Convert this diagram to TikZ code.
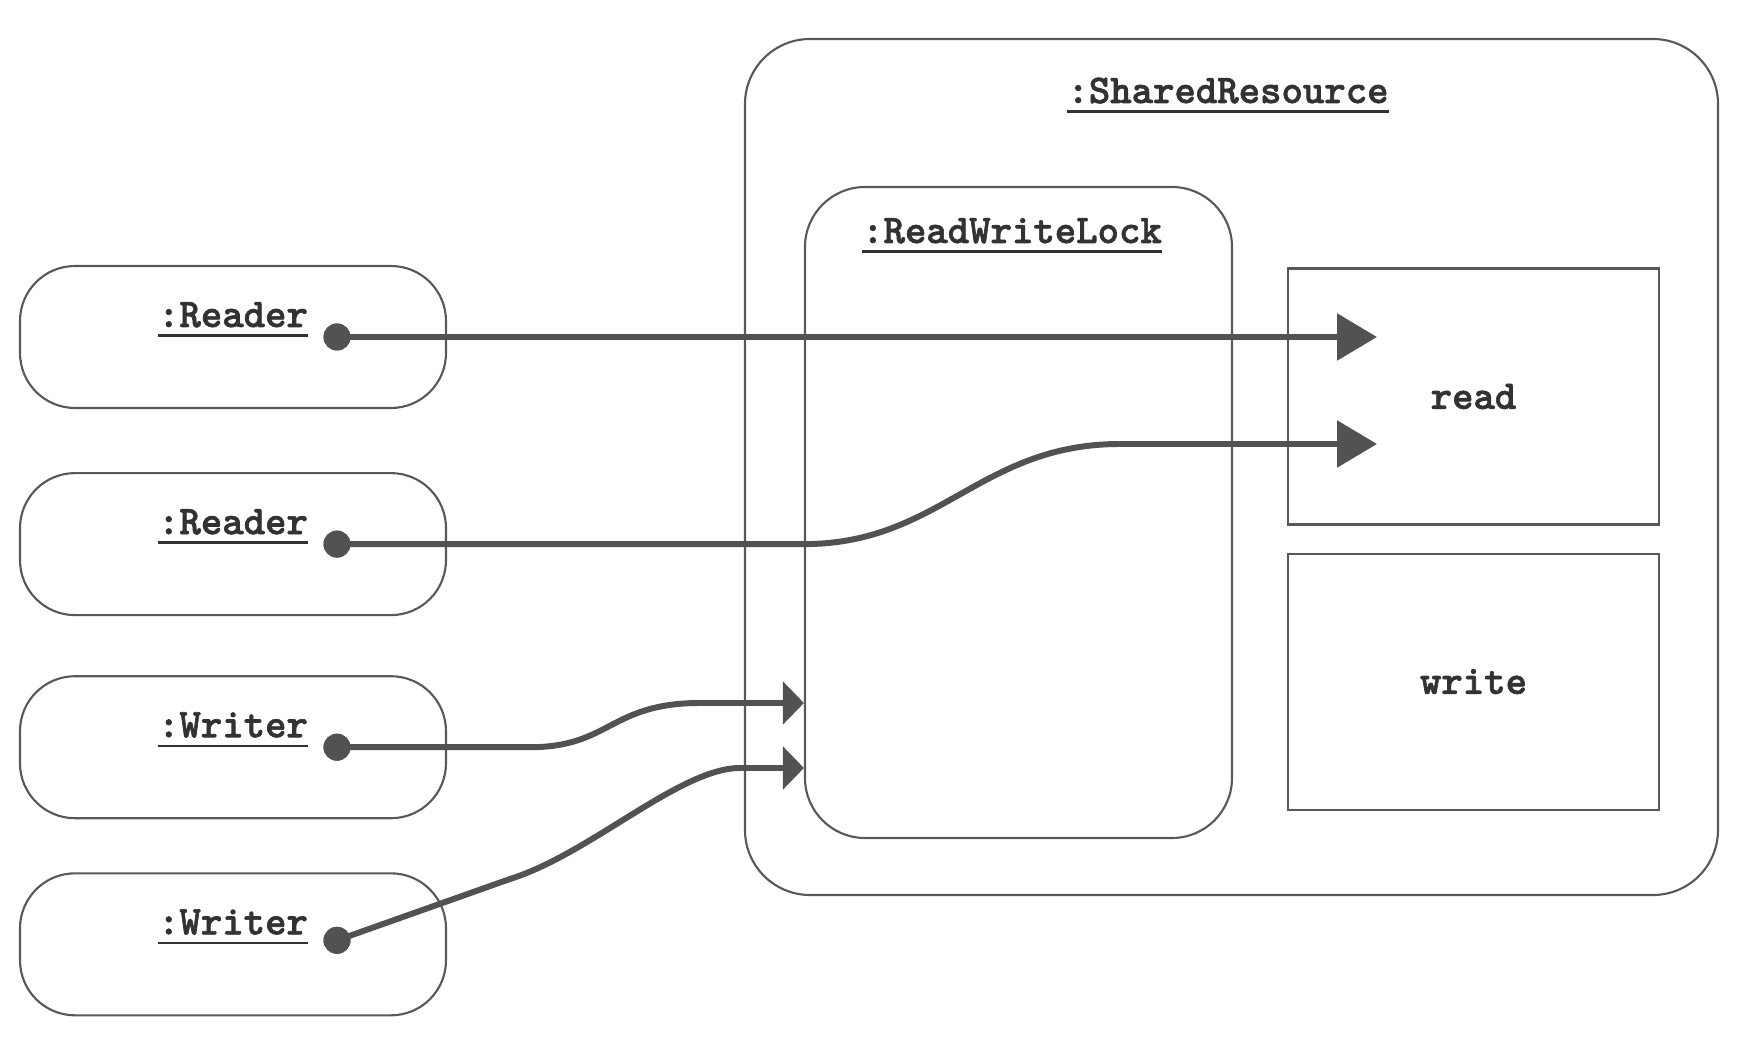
\documentclass[tikz,border=0pt]{standalone}
\usepackage{fontspec}
\newfontfamily\umlfont{lmmonolt10-bold.otf}[FakeBold=1.6]
\usepackage{tikz}
\usetikzlibrary{positioning,arrows.meta}
\definecolor{boxline}{RGB}{88,88,88}
\definecolor{wireline}{RGB}{82,82,82}
\definecolor{labeltext}{RGB}{50,50,50}
\newcommand{\objname}[1]{\setbox0\hbox{#1}\rlap{\rule[-2.8pt]{\wd0}{0.7pt}}\box0}
\tikzset{
  objlabel/.style={anchor=base,inner sep=0pt,text=labeltext,font=\umlfont\fontsize{11.6}{14}\selectfont},
  actorbox/.style={rectangle,rounded corners=0.55cm,draw=boxline,line width=0.6pt,minimum width=4.26cm,minimum height=1.42cm},
  groupbox/.style={rectangle,rounded corners=0.65cm,draw=boxline,line width=0.6pt},
  opbox/.style={rectangle,draw=boxline,line width=0.6pt,minimum width=3.71cm,minimum height=2.56cm,text=labeltext,font=\umlfont\fontsize{11.6}{14}\selectfont},
  portdot/.style={circle,fill=wireline,inner sep=0pt,minimum size=0.27cm},
  wire/.style={draw=wireline,line width=1.7pt},
  readwire/.style={wire,-{Triangle[length=4mm,width=4.6mm]}},
  lockwire/.style={wire,-{Triangle[length=2.1mm,width=4.2mm]}}
}
\begin{document}
\begin{tikzpicture}
  \useasboundingbox (0,0) rectangle (17.48,-10.48);
  % shared resource with its lock and operations
  \node[groupbox,minimum width=9.73cm,minimum height=8.56cm] (shared) at (12.315,-4.67) {};
  \node[objlabel] (sharedname) at (12.28,-1.03) {\objname{:SharedResource}};
  \node[groupbox,rounded corners=0.6cm,minimum width=4.27cm,minimum height=6.51cm] (lock) at (10.185,-5.125) {};
  \node[objlabel] (lockname) at (10.12,-2.43) {\objname{:ReadWriteLock}};
  \node[opbox] (readop) at (14.735,-3.965) {read};
  \node[opbox,below=0.27cm of readop] (writeop) {write};
  % clients
  \node[actorbox] (reader1) at (2.33,-3.37) {};
  \node[actorbox,below=0.63cm of reader1] (reader2) {};
  \node[actorbox,below=0.59cm of reader2] (writer1) {};
  \node[actorbox,below=0.53cm of writer1] (writer2) {};
  \node[objlabel] (reader1name) at ([yshift=0.1cm]reader1.center) {\objname{:Reader}};
  \node[objlabel] (reader2name) at ([yshift=0.1cm]reader2.center) {\objname{:Reader}};
  \node[objlabel] (writer1name) at ([yshift=0.1cm]writer1.center) {\objname{:Writer}};
  \node[objlabel] (writer2name) at ([yshift=0.1cm]writer2.center) {\objname{:Writer}};
  \node[portdot] (reader1dot) at ([xshift=1.04cm]reader1.center) {};
  \node[portdot] (reader2dot) at ([xshift=1.04cm]reader2.center) {};
  \node[portdot] (writer1dot) at ([xshift=1.04cm]writer1.center) {};
  \node[portdot] (writer2dot) at ([xshift=1.04cm,yshift=0.04cm]writer2.center) {};
  % end points of the calls
  \coordinate (readin1) at (reader1dot -| 13.77,0);
  \coordinate (readin2) at (13.77,-4.44);
  \coordinate (lockin1) at (lock.west |- 0,-7.03);
  \coordinate (lockin2) at (lock.west |- 0,-7.68);
  % calls
  \draw[readwire] (reader1dot.center) -- (readin1);
  \draw[readwire] (reader2dot.center) -- (reader2dot -| lock.west)
    .. controls (9.4,0 |- reader2dot) and (9.8,-4.44) .. (11.2,-4.44) -- (readin2);
  \draw[lockwire] (writer1dot.center) -- (writer1dot -| 5.3,0)
    .. controls (6.1,0 |- writer1dot) and (6.1,-7.03) .. (7.0,-7.03) -- (lockin1);
  \draw[lockwire] (writer2dot.center) -- (5.1,-8.79)
    .. controls (5.9,-8.54) and (6.8,-7.68) .. (7.4,-7.68) -- (lockin2);
  \node[portdot] at (reader1dot) {};
  \node[portdot] at (reader2dot) {};
  \node[portdot] at (writer1dot) {};
  \node[portdot] at (writer2dot) {};
\end{tikzpicture}
\end{document}
